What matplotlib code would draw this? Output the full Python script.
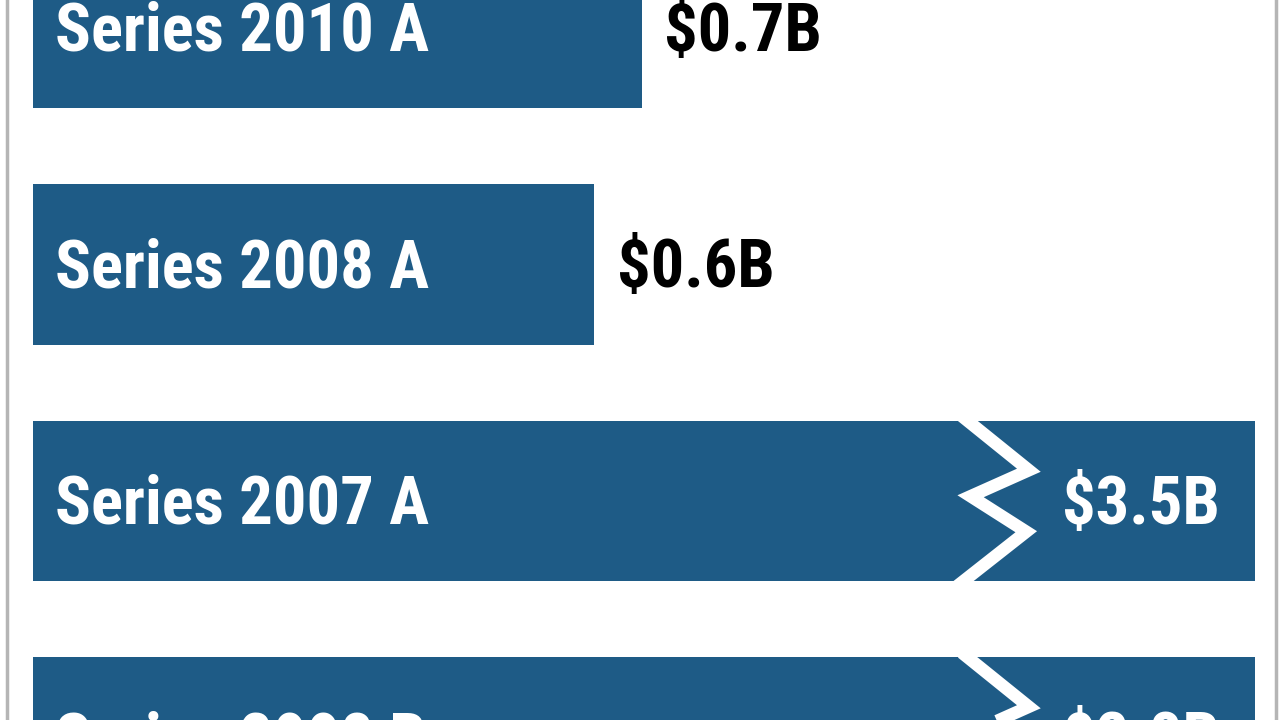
#!/usr/bin/env python3
"""Horizontal bar chart of bond series sizes with broken bars for the big ones."""

import matplotlib.pyplot as plt
from matplotlib.lines import Line2D

# Data
series = ["Series 2010 A", "Series 2008 A", "Series 2007 A", "Series 2008 B"]
amounts = [0.70, 0.645, 3.5, 2.8]          # $ billions (bar lengths)
amount_labels = ["$0.7B", "$0.6B", "$3.5B", "$2.8B"]

BAR_COLOR = "#1e5b86"
CAP = 1.405          # bars longer than this are drawn broken
BREAK_AT = 1.078     # x position of the zigzag break
FONT = ["Roboto Condensed", "Liberation Sans Narrow", "Roboto", "DejaVu Sans"]


def main():
    fig = plt.figure(figsize=(12.8, 7.2), dpi=100)
    ax = fig.add_axes([33 / 1280, 0, (1255 - 33) / 1280, 1])

    ypos = list(range(len(series)))
    widths = [min(v, CAP) for v in amounts]
    ax.barh(ypos, widths, height=0.677, color=BAR_COLOR, left=0)

    txt = dict(fontsize=48, fontweight="bold", family=FONT,
               fontstretch="condensed", va="center")
    for y, name, v, lab in zip(ypos, series, amounts, amount_labels):
        ax.text(0.025, y + 0.02, name, color="white", ha="left", **txt)
        if v > CAP:
            # zigzag break
            h = 0.677 / 2
            xs = [BREAK_AT - 0.01, BREAK_AT + 0.067, BREAK_AT, BREAK_AT + 0.064,
                  BREAK_AT - 0.015]
            ys = [y - h - 0.02, y - 0.13, y - 0.02, y + 0.13, y + h + 0.02]
            ax.plot(xs, ys, color="white", lw=9, solid_joinstyle="miter",
                    solid_capstyle="butt")
            ax.text(CAP - 0.04, y + 0.02, lab, color="white", ha="right", **txt)
        else:
            ax.text(v + 0.026, y + 0.02, lab, color="black", ha="left", **txt)

    ax.set_xlim(0, CAP)
    ax.set_ylim(2.926, -0.118)
    ax.axis("off")

    # grey frame lines at the sides
    fig.add_artist(Line2D([6.5 / 1280, 6.5 / 1280], [0, 1], color="#b5b5b5", lw=2.5))
    fig.add_artist(Line2D([1276 / 1280, 1276 / 1280], [0, 1], color="#b5b5b5", lw=2.5))

    fig.savefig("out.png", dpi=100)
    plt.close(fig)


if __name__ == "__main__":
    main()
